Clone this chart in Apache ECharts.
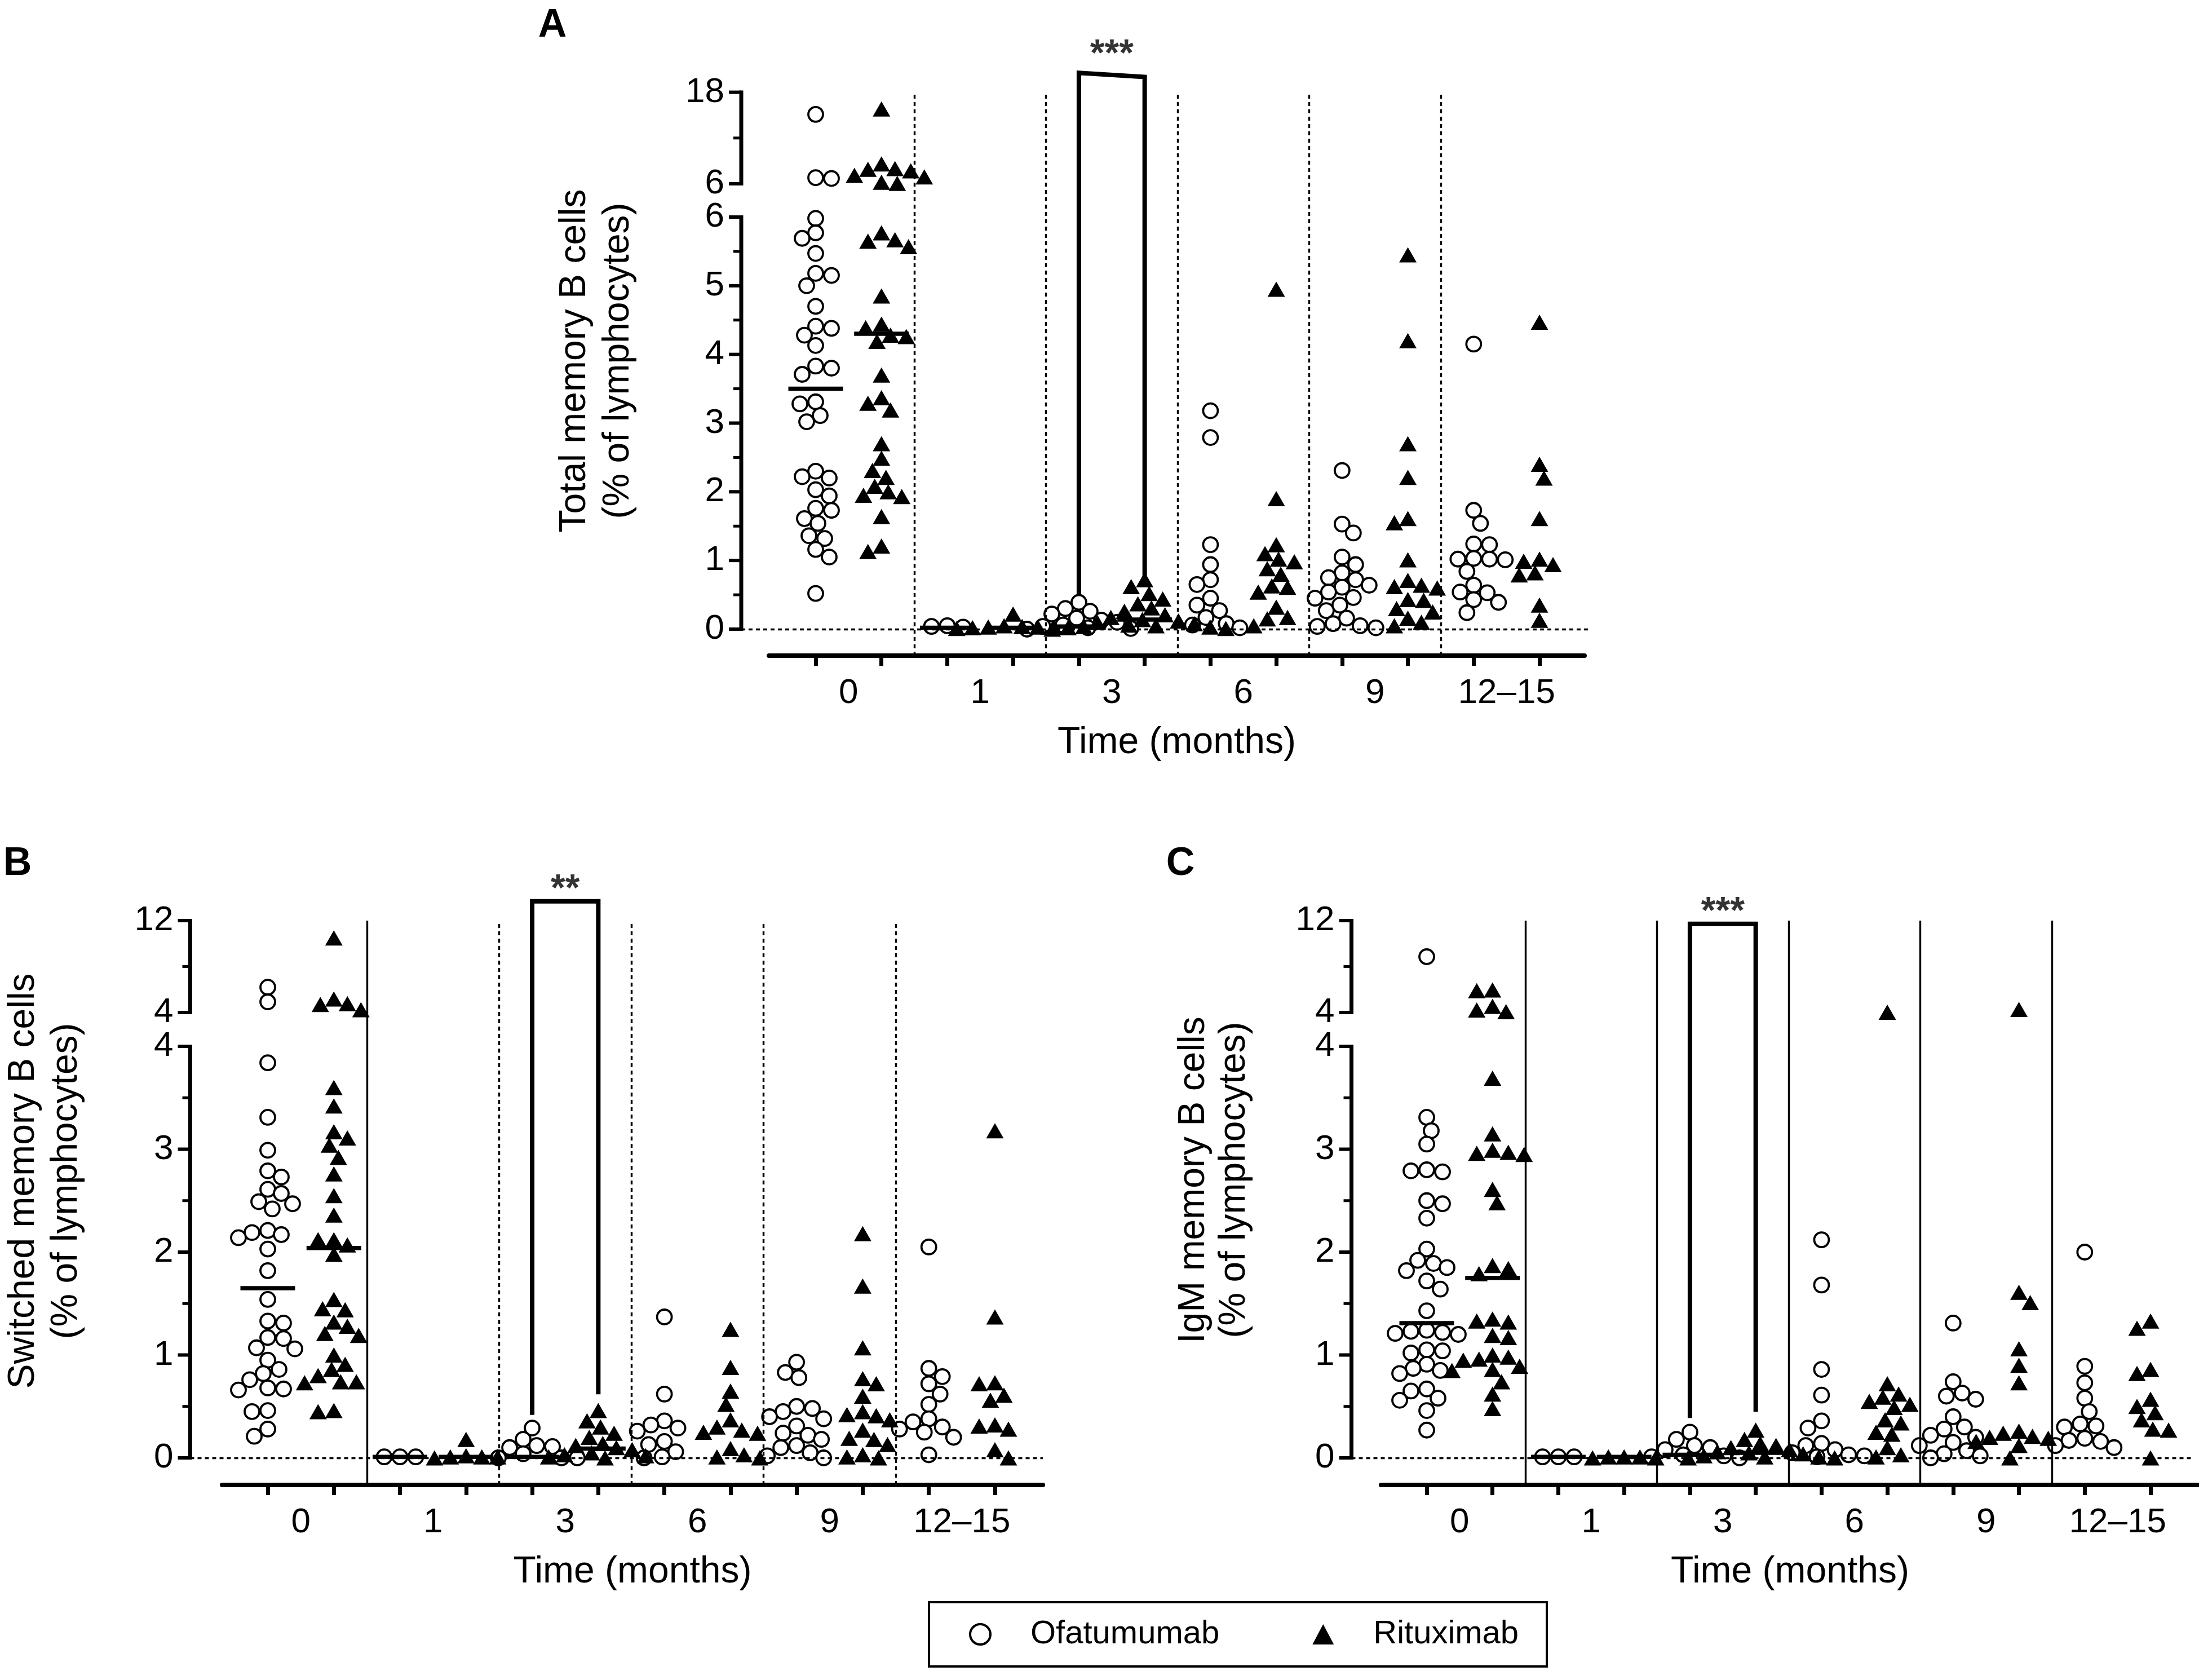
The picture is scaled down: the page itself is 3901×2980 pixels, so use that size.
<!DOCTYPE html>
<html>
<head>
<meta charset="utf-8">
<script src="https://cdn.jsdelivr.net/npm/echarts@6/dist/echarts.min.js"></script>
<style>
  html, body { margin: 0; padding: 0; background: #fff; }
  #chart { width: 3901px; height: 2980px; }
</style>
</head>
<body>
<div id="chart"></div>
<script>
var FONT = '"Liberation Sans", Arial, Helvetica, sans-serif';

// x categories: each time point has an Ofatumumab column and a Rituximab column
var timeLabels = ['0', '1', '3', '6', '9', '12–15'];

// ---- A: total memory B cells (% of lymphocytes), one list per time point
var totalOfa = [
  [15.1, 6.8, 6.7, 5.98, 5.77, 5.69, 5.47, 5.18, 5.15, 5.0, 4.7, 4.41, 4.38, 4.28, 4.13, 3.83, 3.8, 3.71, 3.31, 3.28, 3.11, 3.02, 2.3, 2.22, 2.2, 2.03, 1.94, 1.76, 1.73, 1.61, 1.54, 1.36, 1.32, 1.16, 1.05, 0.52],
  [0.05, 0.04, 0.03],
  [0.39, 0.3, 0.26, 0.22, 0.16, 0.13, 0.1, 0.06, 0.04, 0.02, 0.01, 0.0],
  [3.18, 2.79, 1.23, 0.94, 0.72, 0.65, 0.45, 0.35, 0.27, 0.17, 0.08, 0.06, 0.02],
  [2.31, 1.53, 1.4, 1.05, 0.94, 0.82, 0.75, 0.72, 0.64, 0.61, 0.54, 0.46, 0.45, 0.35, 0.27, 0.16, 0.08, 0.05, 0.04, 0.02],
  [4.15, 1.73, 1.54, 1.24, 1.23, 1.03, 1.02, 1.02, 1.01, 0.84, 0.64, 0.54, 0.53, 0.43, 0.39, 0.24]
];
var totalRit = [
  [15.8, 8.6, 8.0, 7.9, 7.7, 7.1, 6.9, 6.2, 6.05, 5.77, 5.67, 5.65, 5.57, 4.85, 4.44, 4.39, 4.28, 4.26, 4.19, 3.7, 3.37, 3.29, 3.19, 2.7, 2.49, 2.31, 2.21, 2.08, 2.0, 1.95, 1.93, 1.64, 1.21, 1.13],
  [0.22, 0.05, 0.04, 0.03, 0.03, 0.02, 0.02, 0.01],
  [0.72, 0.62, 0.52, 0.44, 0.37, 0.31, 0.26, 0.21, 0.17, 0.14, 0.12, 0.1, 0.08, 0.06, 0.05, 0.04, 0.03, 0.02, 0.01, 0.0],
  [4.95, 1.9, 1.23, 1.1, 1.02, 0.98, 0.88, 0.8, 0.63, 0.61, 0.54, 0.32, 0.17, 0.15, 0.05],
  [5.45, 4.2, 2.7, 2.21, 1.61, 1.55, 1.01, 0.71, 0.64, 0.62, 0.6, 0.43, 0.42, 0.3, 0.25, 0.16, 0.1, 0.05],
  [4.47, 2.4, 2.2, 1.61, 1.02, 0.99, 0.94, 0.82, 0.79, 0.35, 0.13]
];
var totalMedOfa = [3.5, 0.02, 0.04];   // medians drawn for months 0, 1, 3
var totalMedRit = [4.3, 0.02, 0.14];
var totalBracket = [[4, 0.54], [4, 8.10], [5, 8.04], [5, 0.79]];

// ---- B: switched memory B cells
var switchedOfa = [
  [6.2, 4.93, 3.84, 3.31, 2.99, 2.79, 2.73, 2.61, 2.57, 2.49, 2.47, 2.42, 2.21, 2.19, 2.17, 2.14, 2.03, 1.82, 1.54, 1.33, 1.31, 1.17, 1.16, 1.07, 1.06, 0.95, 0.86, 0.82, 0.76, 0.68, 0.67, 0.66, 0.46, 0.45, 0.28, 0.21],
  [0.01, 0.01, 0.01],
  [0.29, 0.18, 0.12, 0.11, 0.1, 0.04, 0.0, 0.0, 0.0],
  [1.37, 0.62, 0.36, 0.32, 0.29, 0.26, 0.16, 0.13, 0.06, 0.01, 0.0],
  [0.93, 0.83, 0.78, 0.5, 0.48, 0.45, 0.4, 0.38, 0.31, 0.24, 0.22, 0.18, 0.12, 0.1, 0.05, 0.02, 0.0],
  [2.05, 0.87, 0.79, 0.72, 0.62, 0.52, 0.38, 0.35, 0.3, 0.28, 0.25, 0.2, 0.03]
];
var switchedRit = [
  [10.49, 5.18, 4.77, 4.7, 4.25, 3.6, 3.42, 3.17, 3.11, 3.04, 2.92, 2.76, 2.55, 2.36, 2.12, 2.12, 2.07, 1.98, 1.54, 1.45, 1.44, 1.32, 1.28, 1.21, 1.19, 1.0, 0.91, 0.86, 0.8, 0.74, 0.74, 0.73, 0.46, 0.45],
  [0.18, 0.02, 0.01, 0.01, 0.01, 0.0],
  [0.46, 0.36, 0.3, 0.24, 0.2, 0.14, 0.12, 0.1, 0.08, 0.05, 0.03, 0.02, 0.01, 0.0],
  [1.25, 0.88, 0.65, 0.52, 0.37, 0.3, 0.27, 0.25, 0.24, 0.09, 0.03, 0.01, 0.0],
  [2.18, 1.67, 1.07, 0.77, 0.72, 0.6, 0.45, 0.42, 0.41, 0.37, 0.27, 0.19, 0.18, 0.13, 0.03, 0.01, 0.0],
  [3.18, 1.37, 0.73, 0.72, 0.61, 0.56, 0.32, 0.31, 0.28, 0.08, 0.0]
];
var switchedMedOfa = [1.65, 0.01, 0.01];
var switchedMedRit = [2.04, 0.01, 0.09];
var switchedBracket = [[4, 0.44], [4, 5.41], [5, 5.41], [5, 0.64]];

// ---- C: IgM memory B cells
var igmOfa = [
  [8.86, 3.31, 3.18, 3.05, 2.8, 2.79, 2.78, 2.5, 2.47, 2.33, 2.03, 1.92, 1.89, 1.85, 1.82, 1.72, 1.64, 1.43, 1.24, 1.23, 1.22, 1.21, 1.2, 1.05, 1.04, 1.02, 0.91, 0.87, 0.85, 0.82, 0.67, 0.65, 0.58, 0.56, 0.46, 0.27],
  [0.01, 0.01, 0.01],
  [0.25, 0.18, 0.12, 0.1, 0.08, 0.03, 0.02, 0.01, 0.0],
  [2.12, 1.68, 0.86, 0.61, 0.36, 0.29, 0.14, 0.12, 0.08, 0.05, 0.03, 0.02, 0.01],
  [1.31, 0.74, 0.63, 0.6, 0.57, 0.4, 0.3, 0.28, 0.22, 0.2, 0.15, 0.12, 0.07, 0.04, 0.02, 0.0],
  [2.0, 0.89, 0.73, 0.58, 0.45, 0.33, 0.31, 0.3, 0.19, 0.17, 0.16, 0.12, 0.1]
];
var igmRit = [
  [5.96, 5.9, 4.54, 4.22, 4.07, 3.69, 3.15, 2.99, 2.97, 2.96, 2.95, 2.61, 2.48, 1.87, 1.84, 1.79, 1.35, 1.33, 1.32, 1.19, 1.17, 1.0, 0.98, 0.96, 0.95, 0.89, 0.86, 0.85, 0.74, 0.62, 0.48],
  [0.01, 0.01, 0.01, 0.0, 0.0],
  [0.27, 0.18, 0.14, 0.12, 0.1, 0.08, 0.06, 0.05, 0.04, 0.02, 0.01, 0.01, 0.0, 0.0],
  [4.02, 0.72, 0.62, 0.59, 0.55, 0.52, 0.49, 0.37, 0.34, 0.25, 0.23, 0.1, 0.03, 0.01],
  [4.27, 1.61, 1.51, 1.06, 0.9, 0.73, 0.26, 0.24, 0.21, 0.2, 0.19, 0.16, 0.12, 0.0],
  [1.33, 1.26, 0.86, 0.82, 0.57, 0.5, 0.44, 0.37, 0.28, 0.27, 0.0]
];
var igmMedOfa = [1.31, 0.01, 0.03];
var igmMedRit = [1.75, 0.01, 0.05];
var igmBracket = [[4, 0.41], [4, 5.19], [5, 5.19], [5, 0.47]];

// significance marks above the 3-month brackets
var starText = ['***', '**', '***'];
var starY = [8.36, 5.52, 5.30];

var panels = [
  { letter: 'A', title: ['Total memory B cells', '(% of lymphocytes)'], ofa: totalOfa, rit: totalRit,
    medOfa: totalMedOfa, medRit: totalMedRit, bracket: totalBracket,
    axisX: 1315, tick0: 1447, step: 116.73, frameL: 1364, frameR: 2811, zeroR: 2820,
    top: 163.6, brkHi: 326, brkLo: 385, y0: 1116, xAxisY: 1163, brk: 6, yMax: 18, yMid: 12,
    seps: ['dotted', 'dotted', 'dotted', 'dotted', 'dotted'],
    letterPos: [980, 46], titleX: [1020, 1097], titleY: 640 },
  { letter: 'B', title: ['Switched memory B cells', '(% of lymphocytes)'], ofa: switchedOfa, rit: switchedRit,
    medOfa: switchedMedOfa, medRit: switchedMedRit, bracket: switchedBracket,
    axisX: 337.5, tick0: 475, step: 117.27, frameL: 394, frameR: 1850, zeroR: 1850,
    top: 1633, brkHi: 1796, brkLo: 1856, y0: 2586, xAxisY: 2634, brk: 4, yMax: 12, yMid: 8,
    seps: ['solid', 'dotted', 'dotted', 'dotted', 'dotted'],
    letterPos: [31, 1533], titleX: [42, 118], titleY: 2095 },
  { letter: 'C', title: ['IgM memory B cells', '(% of lymphocytes)'], ofa: igmOfa, rit: igmRit,
    medOfa: igmMedOfa, medRit: igmMedRit, bracket: igmBracket,
    axisX: 2397.5, tick0: 2531, step: 116.73, frameL: 2450, frameR: 3901, zeroR: 3887,
    top: 1633, brkHi: 1796, brkLo: 1856, y0: 2586, xAxisY: 2634, brk: 4, yMax: 12, yMid: 8,
    seps: ['solid', 'solid', 'solid', 'solid', 'solid'],
    letterPos: [2094, 1533], titleX: [2118, 2190], titleY: 2093 }
];

var DOT = [7, 6];
var DMIN = 25, STEP = 4;

// simple beeswarm: spread points sideways (in pixels) so symbols don't pile up
function swarm(vals, toPx) {
  var pts = vals.map(function (v) { return { v: v, y: toPx(v), dx: 0 }; });
  var order = pts.slice().sort(function (a, b) { return a.y - b.y; });
  var placed = [];
  order.forEach(function (p, i) {
    for (var k = 0; k < 300; k++) {
      var s = (i % 2) ? -1 : 1;
      var cands = k === 0 ? [0] : [s * k * STEP, -s * k * STEP];
      var hit = null;
      for (var c = 0; c < cands.length; c++) {
        var dx = cands[c];
        var ok = placed.every(function (q) {
          return (q.dx - dx) * (q.dx - dx) + (q.y - p.y) * (q.y - p.y) >= DMIN * DMIN;
        });
        if (ok) { hit = dx; break; }
      }
      if (hit !== null) { p.dx = hit; break; }
    }
    placed.push(p);
  });
  return pts;
}

var grids = [], xAxes = [], yAxes = [], series = [], graphics = [];
var axisLabelStyle = { color: '#000', fontSize: 62, fontFamily: FONT };

function axisLine(x1, y1, x2, y2, w) {
  return { type: 'line', z: 100, zlevel: 1, silent: true,
           shape: { x1: x1, y1: y1, x2: x2, y2: y2 },
           style: { stroke: '#000', lineWidth: w, lineCap: 'butt' } };
}

panels.forEach(function (P, pi) {
  var gFrame = grids.length, gLow = gFrame + 1, gUp = gFrame + 2;
  var yFrame = yAxes.length, yLow = yFrame + 1, yUp = yFrame + 2;

  grids.push({ left: P.frameL, top: P.top, width: P.frameR - P.frameL, height: P.xAxisY - P.top, outerBoundsMode: 'none' });
  grids.push({ left: P.axisX, top: P.brkLo, width: P.zeroR - P.axisX, height: P.y0 - P.brkLo, outerBoundsMode: 'none' });
  grids.push({ left: P.axisX, top: P.top, width: P.zeroR - P.axisX, height: P.brkHi - P.top, outerBoundsMode: 'none' });

  var inMin = (P.axisX - P.tick0) / P.step, inMax = (P.zeroR - P.tick0) / P.step;

  xAxes.push({
    type: 'value', gridIndex: gFrame, position: 'bottom',
    min: (P.frameL - P.tick0) / P.step, max: (P.frameR - P.tick0) / P.step,
    axisLine: { show: true, onZero: false, lineStyle: { color: '#000', width: 8 } },
    axisTick: { show: true, inside: false, length: 18, lineStyle: { color: '#000', width: 7 },
                customValues: [0, 1, 2, 3, 4, 5, 6, 7, 8, 9, 10, 11] },
    axisLabel: Object.assign({ margin: 36, customValues: [0.5, 2.5, 4.5, 6.5, 8.5, 10.5],
      formatter: function (v) { return timeLabels[Math.round((v - 0.5) / 2)]; } }, axisLabelStyle),
    splitLine: { show: false },
    name: 'Time (months)', nameLocation: 'middle', nameGap: 122,
    nameTextStyle: { color: '#000', fontSize: 66, fontFamily: FONT }
  });
  xAxes.push({ type: 'value', gridIndex: gLow, min: inMin, max: inMax, show: false, axisLine: { onZero: false } });
  xAxes.push({ type: 'value', gridIndex: gUp, min: inMin, max: inMax, show: false, axisLine: { onZero: false } });

  yAxes.push({ type: 'value', gridIndex: gFrame, min: 0, max: 1, show: false });
  yAxes.push({
    type: 'value', gridIndex: gLow, position: 'left', min: 0, max: P.brk, interval: 1,
    axisLine: { show: false, onZero: false }, axisTick: { show: false },
    axisLabel: Object.assign({ margin: 30 }, axisLabelStyle), splitLine: { show: false }
  });
  yAxes.push({
    type: 'value', gridIndex: gUp, position: 'left', min: P.brk, max: P.yMax,
    axisLine: { show: false, onZero: false }, axisTick: { show: false },
    axisLabel: Object.assign({ margin: 30, customValues: [P.brk, P.yMax] }, axisLabelStyle), splitLine: { show: false }
  });

  // pixel position of a value on the broken axis (same mapping as the grids above)
  function toPx(v) {
    if (v <= P.brk) return P.y0 - v * (P.y0 - P.brkLo) / P.brk;
    return P.brkHi - (v - P.brk) * (P.brkHi - P.top) / (P.yMax - P.brk);
  }

  // broken y axis: spine for each segment, outward major/minor ticks
  graphics.push(axisLine(P.axisX, P.y0 + 3, P.axisX, P.brkLo - 3, 7));
  graphics.push(axisLine(P.axisX, P.brkHi + 3, P.axisX, P.top - 3, 7));
  for (var tv = 0; tv <= P.brk + 1e-9; tv += 0.5) {
    var major = Math.abs(tv - Math.round(tv)) < 1e-9;
    graphics.push(axisLine(P.axisX - (major ? 22 : 14), toPx(tv), P.axisX, toPx(tv), major ? 6 : 5));
  }
  graphics.push(axisLine(P.axisX - 22, toPx(P.yMax), P.axisX, toPx(P.yMax), 6));
  graphics.push(axisLine(P.axisX - 14, toPx(P.yMid), P.axisX, toPx(P.yMid), 5));
  graphics.push(axisLine(P.axisX - 22, P.brkHi, P.axisX, P.brkHi, 6));

  function pointsFor(groups, side) {
    var low = [], up = [];
    groups.forEach(function (vals, t) {
      var g = t * 2 + side;
      swarm(vals, toPx).forEach(function (p) {
        var item = [g + p.dx / P.step, p.v];
        if (p.v > P.brk) up.push(item); else low.push(item);
      });
    });
    return { low: low, up: up };
  }

  var circleStyle = { color: '#fff', borderColor: '#000', borderWidth: 3.8, opacity: 1 };
  var triStyle = { color: '#000', borderWidth: 0, opacity: 1 };
  var CIRC = 26, TRI = [31, 27];
  var o = pointsFor(P.ofa, 0), r = pointsFor(P.rit, 1);

  // separators between time points, spanning the whole panel height
  series.push({
    type: 'scatter', xAxisIndex: gFrame, yAxisIndex: yFrame, data: [], silent: true,
    markLine: {
      silent: true, symbol: ['none', 'none'], label: { show: false }, animation: false,
      data: P.seps.map(function (s, i) {
        return { xAxis: i * 2 + 1.5, lineStyle: { color: '#000', width: 3.4, type: s === 'solid' ? 'solid' : DOT } };
      })
    }
  });

  series.push({
    name: 'Ofatumumab', type: 'scatter', xAxisIndex: gLow, yAxisIndex: yLow, data: o.low, clip: false,
    symbol: 'circle', symbolSize: CIRC, itemStyle: circleStyle, z: 3,
    markLine: {
      silent: true, symbol: ['none', 'none'], label: { show: false }, animation: false,
      lineStyle: { color: '#000', width: 3.4, type: DOT, opacity: 1 },
      data: [[{ coord: [inMin, 0] }, { coord: [inMax, 0] }]]
    }
  });
  series.push({
    name: 'Ofatumumab', type: 'scatter', xAxisIndex: gUp, yAxisIndex: yUp, data: o.up, clip: false,
    symbol: 'circle', symbolSize: CIRC, itemStyle: circleStyle, z: 3
  });
  series.push({
    name: 'Rituximab', type: 'scatter', xAxisIndex: gLow, yAxisIndex: yLow, data: r.low, clip: false,
    symbol: 'triangle', symbolSize: TRI, itemStyle: triStyle, z: 3
  });
  series.push({
    name: 'Rituximab', type: 'scatter', xAxisIndex: gUp, yAxisIndex: yUp, data: r.up, clip: false,
    symbol: 'triangle', symbolSize: TRI, itemStyle: triStyle, z: 3
  });

  var med = [];
  P.medOfa.forEach(function (m, t) { med.push([t * 2, m]); });
  P.medRit.forEach(function (m, t) { med.push([t * 2 + 1, m]); });
  series.push({
    name: 'median', type: 'scatter', xAxisIndex: gLow, yAxisIndex: yLow, data: med, clip: false,
    symbol: 'rect', symbolSize: [97, 7.5], itemStyle: { color: '#000', opacity: 1 }, z: 4, silent: true
  });

  series.push({
    name: 'bracket', type: 'line', xAxisIndex: gLow, yAxisIndex: yLow, clip: false, data: P.bracket,
    symbol: 'none', lineStyle: { color: '#000', width: 8, cap: 'square', join: 'miter', opacity: 1 }, z: 4, silent: true
  });
  series.push({
    name: 'stars', type: 'scatter', xAxisIndex: gLow, yAxisIndex: yLow, data: [[4.5, starY[pi]]], clip: false,
    symbolSize: 0, silent: true, z: 5,
    label: { show: true, position: 'inside', formatter: starText[pi], color: '#000',
             fontSize: 66, fontWeight: 'bold', fontFamily: FONT }
  });

  graphics.push({
    type: 'text', x: P.letterPos[0], y: P.letterPos[1],
    style: { text: P.letter, fill: '#000', font: 'bold 70px ' + FONT, align: 'center', verticalAlign: 'middle',
             textAlign: 'center', textVerticalAlign: 'middle' }
  });
  P.title.forEach(function (line, li) {
    graphics.push({
      type: 'text', x: P.titleX[li], y: P.titleY, rotation: Math.PI / 2,
      style: { text: line, fill: '#000', font: '66px ' + FONT, align: 'center', verticalAlign: 'middle',
               textAlign: 'center', textVerticalAlign: 'middle' }
    });
  });
});

var chart = echarts.init(document.getElementById('chart'), null, { renderer: 'canvas', width: 3901, height: 2980 });
chart.setOption({
  animation: false,
  backgroundColor: '#fff',
  grid: grids,
  xAxis: xAxes,
  yAxis: yAxes,
  series: series,
  graphic: { elements: graphics },
  legend: {
    data: [{ name: 'Ofatumumab', icon: 'circle' }, { name: 'Rituximab', icon: 'triangle' }],
    selectedMode: false,
    left: 1648, top: 2842, orient: 'horizontal',
    padding: [28, 50, 28, 71], itemGap: 165, itemWidth: 38, itemHeight: 36,
    borderColor: '#000', borderWidth: 4, backgroundColor: '#fff',
    itemStyle: { borderWidth: 4, opacity: 1 },
    textStyle: { color: '#000', fontSize: 58, fontFamily: FONT, padding: [0, 0, 0, 65] }
  }
});
</script>
</body>
</html>
